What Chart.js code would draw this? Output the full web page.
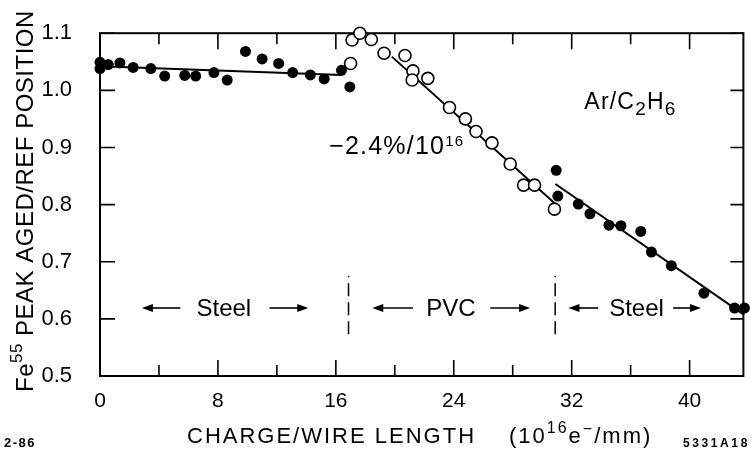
<!DOCTYPE html>
<html>
<head>
<meta charset="utf-8">
<script src="https://cdn.jsdelivr.net/npm/chart.js@4"></script>
<style>
  html, body { margin: 0; padding: 0; background: #fff; }
  canvas { display: block; }
</style>
</head>
<body>
<canvas id="agingChart" width="751" height="453"></canvas>
<script>
// measured points, steel-wire runs (filled dots)
const steelX = [0, 0, 0.56, 1.35, 2.25, 3.45, 4.39, 5.75, 6.49, 7.73, 8.63, 9.87, 11.0, 12.12, 13.07, 14.27, 15.21, 16.38, 16.95,
  30.95, 31.06, 32.45, 33.24, 34.53, 35.34, 36.69, 37.41, 38.76, 40.97, 43.05, 43.72];
const steelY = [1.049, 1.038, 1.045, 1.048, 1.040, 1.038, 1.025, 1.026, 1.025, 1.031, 1.018, 1.068, 1.055, 1.047, 1.031, 1.027, 1.020, 1.035, 1.006,
  0.860, 0.815, 0.801, 0.784, 0.764, 0.763, 0.753, 0.717, 0.693, 0.645, 0.619, 0.619];

// PVC run (open circles)
const pvcX = [17.0, 17.1, 17.63, 18.41, 19.27, 20.69, 21.23, 21.18, 22.24, 23.71, 24.79, 25.51, 26.59, 27.83, 28.74, 29.48, 30.83];
const pvcY = [1.047, 1.088, 1.100, 1.089, 1.065, 1.061, 1.034, 1.018, 1.021, 0.970, 0.950, 0.928, 0.908, 0.871, 0.834, 0.834, 0.792];

// fitted lines (end points)
const fitSteel1X = [0, 16.4];
const fitSteel1Y = [1.042, 1.027];
const fitPvcX = [19.8, 30.9];
const fitPvcY = [1.059, 0.801];
const fitSteel2X = [30.9, 43.7];
const fitSteel2Y = [0.836, 0.607];

// region boundaries
const boundaryX = [16.86, 30.88];
const boundaryY = [0.573, 0.675];

// axes
const xMin = 0, xMax = 43.65;
const yMin = 0.5, yMax = 1.1;
const xMajorTicks = [0, 8, 16, 24, 32, 40];
const xMinorTicks = [4, 12, 20, 28, 36];
const yTicks = [0.5, 0.6, 0.7, 0.8, 0.9, 1.0, 1.1];

const FONT = "'Liberation Sans', Arial, sans-serif";

function pts(xs, ys) {
  return xs.map((x, i) => ({ x: x, y: ys[i] }));
}

const lineStyle = {
  showLine: true, pointRadius: 0, borderColor: "#000", borderWidth: 2, clip: false, order: 2
};

const datasets = [
  Object.assign({ data: pts(fitSteel1X, fitSteel1Y) }, lineStyle),
  Object.assign({ data: pts(fitPvcX, fitPvcY) }, lineStyle),
  Object.assign({ data: pts(fitSteel2X, fitSteel2Y) }, lineStyle),
  Object.assign({ data: pts([boundaryX[0], boundaryX[0]], boundaryY), borderDash: [13, 6] }, lineStyle, { borderWidth: 1.5 }),
  Object.assign({ data: pts([boundaryX[1], boundaryX[1]], boundaryY), borderDash: [13, 6] }, lineStyle, { borderWidth: 1.5 }),
  {
    data: pts(pvcX, pvcY), pointRadius: 6, pointBackgroundColor: "#fff", pointBorderColor: "#000",
    pointBorderWidth: 1.6, showLine: false, clip: false, order: 1
  },
  {
    data: pts(steelX, steelY), pointRadius: 5.5, pointBackgroundColor: "#000", pointBorderColor: "#000",
    pointBorderWidth: 0, showLine: false, clip: false, order: 0
  }
];

// draws a string made of pieces, each with its own size and baseline shift
function drawRich(ctx, x, y, parts, spacing) {
  ctx.letterSpacing = (spacing || 0) + "px";
  ctx.textBaseline = "alphabetic";
  ctx.textAlign = "left";
  parts.forEach(p => {
    ctx.font = (p.bold ? "bold " : "") + p.size + "px " + FONT;
    ctx.fillText(p.t, x + (p.dx || 0), y + (p.dy || 0));
    x += ctx.measureText(p.t).width + (p.dx || 0);
  });
  ctx.letterSpacing = "0px";
  return x;
}

function arrow(ctx, x1, x2, y) {
  const dir = Math.sign(x2 - x1);
  ctx.beginPath();
  ctx.moveTo(x1, y);
  ctx.lineTo(x2 - dir * 8, y);
  ctx.lineWidth = 1.6;
  ctx.stroke();
  ctx.beginPath();
  ctx.moveTo(x2, y);
  ctx.lineTo(x2 - dir * 11, y - 4);
  ctx.lineTo(x2 - dir * 11, y + 4);
  ctx.closePath();
  ctx.fill();
}

const framePlugin = {
  id: "frame",
  beforeDatasetsDraw(chart) {
    const { ctx, chartArea: a, scales: { x, y } } = chart;
    ctx.save();
    ctx.strokeStyle = "#000";
    ctx.lineWidth = 2;
    ctx.strokeRect(a.left, a.top, a.right - a.left, a.bottom - a.top);
    ctx.lineWidth = 1.6;
    ctx.beginPath();
    yTicks.forEach(v => {
      const py = y.getPixelForValue(v);
      ctx.moveTo(a.left, py); ctx.lineTo(a.left + 15, py);
      ctx.moveTo(a.right, py); ctx.lineTo(a.right - 13, py);
    });
    xMajorTicks.forEach(v => {
      const px = x.getPixelForValue(v);
      ctx.moveTo(px, a.bottom); ctx.lineTo(px, a.bottom - 16);
      ctx.moveTo(px, a.top); ctx.lineTo(px, a.top + 16);
    });
    xMinorTicks.forEach(v => {
      const px = x.getPixelForValue(v);
      ctx.moveTo(px, a.bottom); ctx.lineTo(px, a.bottom - 11);
      ctx.moveTo(px, a.top); ctx.lineTo(px, a.top + 11);
    });
    ctx.stroke();
    ctx.restore();
  },
  afterDatasetsDraw(chart) {
    const { ctx, scales: { x, y } } = chart;
    ctx.save();
    ctx.fillStyle = "#000";
    ctx.strokeStyle = "#000";

    // gas label
    drawRich(ctx, x.getPixelForValue(32.86), y.getPixelForValue(0.967), [
      { t: "Ar/C", size: 23 }, { t: "2", size: 19, dy: 6 }, { t: "H", size: 23 }, { t: "6", size: 19, dy: 6 }
    ], 1.2);

    // slope
    drawRich(ctx, x.getPixelForValue(15.55), y.getPixelForValue(0.889), [
      { t: "\u22122.4%/10", size: 25 }, { t: "16", size: 15, dy: -8 }
    ], 1.2);

    // region labels
    const ly = y.getPixelForValue(0.619);
    ctx.font = "24px " + FONT;
    ctx.textAlign = "center";
    ctx.textBaseline = "middle";
    ctx.fillText("Steel", x.getPixelForValue(8.4), ly + 1);
    ctx.fillText("PVC", x.getPixelForValue(23.8), ly + 1);
    ctx.fillText("Steel", x.getPixelForValue(36.4), ly + 1);
    arrow(ctx, x.getPixelForValue(5.45), x.getPixelForValue(2.84), ly);
    arrow(ctx, x.getPixelForValue(11.5), x.getPixelForValue(14.13), ly);
    arrow(ctx, x.getPixelForValue(21.23), x.getPixelForValue(18.47), ly);
    arrow(ctx, x.getPixelForValue(26.48), x.getPixelForValue(29.18), ly);
    arrow(ctx, x.getPixelForValue(33.8), x.getPixelForValue(31.78), ly);
    arrow(ctx, x.getPixelForValue(38.88), x.getPixelForValue(40.77), ly);

    // x axis title
    let tx = drawRich(ctx, 187, 443, [{ t: "CHARGE/WIRE LENGTH", size: 22 }], 2);
    drawRich(ctx, tx + 33, 443, [
      { t: "(10", size: 22 }, { t: "16", size: 16, dy: -10 }, { t: "e", size: 22 }, { t: "\u2212", size: 16, dy: -9 },
      { t: "/mm)", size: 22 }
    ], 2);

    // y axis title (rotated)
    ctx.save();
    ctx.translate(33, 392);
    ctx.rotate(-Math.PI / 2);
    drawRich(ctx, 0, 0, [
      { t: "Fe", size: 24 }, { t: "55", size: 17, dy: -11 }, { t: " PEAK AGED/REF POSITION", size: 24 }
    ], 0.5);
    ctx.restore();

    // figure ids
    drawRich(ctx, 4, 447, [{ t: "2-86", size: 13, bold: true }], 1.5);
    drawRich(ctx, 683, 447, [{ t: "5331A18", size: 12, bold: true }], 2.6);
    ctx.restore();
  }
};

new Chart(document.getElementById("agingChart"), {
  type: "scatter",
  data: { datasets: datasets },
  options: {
    responsive: false,
    animation: false,
    devicePixelRatio: 1,
    layout: { padding: { top: 23, right: 6, left: 0, bottom: 0 } },
    plugins: { legend: { display: false }, tooltip: { enabled: false } },
    scales: {
      x: {
        type: "linear", min: xMin, max: xMax,
        afterBuildTicks: s => { s.ticks = xMajorTicks.map(v => ({ value: v })); },
        afterFit: s => { s.height = 77; },
        grid: { display: false }, border: { display: false },
        ticks: { color: "#000", padding: 5, font: { family: FONT, size: 21 }, callback: v => String(v) }
      },
      y: {
        type: "linear", min: yMin, max: yMax,
        afterBuildTicks: s => { s.ticks = yTicks.map(v => ({ value: v })); },
        afterFit: s => { s.width = 100; },
        grid: { display: false }, border: { display: false },
        ticks: { color: "#000", padding: 20, font: { family: FONT, size: 22 }, callback: v => v.toFixed(1) }
      }
    }
  },
  plugins: [framePlugin]
});
</script>
</body>
</html>
